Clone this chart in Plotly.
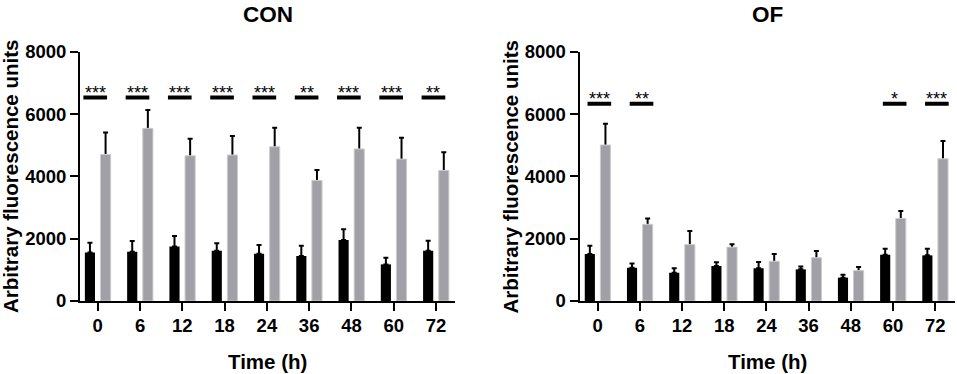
import plotly.graph_objects as go

# ---------------- data ----------------
times = ["0", "6", "12", "18", "24", "36", "48", "60", "72"]
y_tick_values = [0, 2000, 4000, 6000, 8000]

con_black = [1560, 1580, 1750, 1615, 1520, 1445, 1960, 1175, 1615]
con_black_sd = [310, 345, 335, 235, 280, 330, 340, 215, 320]
con_gray = [4700, 5540, 4660, 4685, 4950, 3870, 4880, 4555, 4190]
con_gray_sd = [710, 590, 550, 610, 610, 330, 680, 685, 580]
con_sig = ["***", "***", "***", "***", "***", "**", "***", "***", "**"]
con_sig_level = 6530

of_black = [1510, 1070, 910, 1120, 1050, 1015, 750, 1485, 1465]
of_black_sd = [265, 130, 140, 120, 200, 95, 95, 195, 215]
of_gray = [5005, 2460, 1810, 1730, 1275, 1390, 975, 2650, 4565]
of_gray_sd = [685, 190, 435, 90, 235, 215, 115, 240, 570]
of_sig = ["***", "**", "", "", "", "", "", "*", "***"]
of_sig_level = 6330

# ---------------- style ----------------
FONT = "Arial, 'Liberation Sans', sans-serif"
W, H = 957, 374
BAR_W = 0.24
BLACK_OFF = -0.305
GRAY_OFF = 0.065
GRAY_FILL = "rgb(160,160,166)"
GRAY_EDGE = "rgb(205,205,205)"
HIDE = 80  # hides error-bar foot under the grey bar

idx = list(range(len(times)))

fig = go.Figure()
shapes = []
annotations = []


def add_panel(n, black, black_sd, gray, gray_sd, sig, sig_level, title, xdom, xrange, sig_shift):
    xa = "x" if n == 1 else f"x{n}"
    ya = "y" if n == 1 else f"y{n}"
    eb = dict(type="data", symmetric=False, color="black", thickness=2, width=2.5)
    fig.add_trace(go.Bar(
        x=idx, y=black, xaxis=xa, yaxis=ya, width=BAR_W, offset=BLACK_OFF,
        marker=dict(color="black", line=dict(width=0)),
        error_y=dict(eb, array=black_sd, arrayminus=[0] * len(black)),
        showlegend=False, hoverinfo="skip"))
    fig.add_trace(go.Bar(
        x=idx, y=[g - HIDE for g in gray], xaxis=xa, yaxis=ya, width=BAR_W, offset=GRAY_OFF,
        marker=dict(color="rgba(0,0,0,0)", line=dict(width=0)),
        error_y=dict(eb, array=[s + HIDE for s in gray_sd], arrayminus=[0] * len(gray)),
        showlegend=False, hoverinfo="skip"))
    fig.add_trace(go.Bar(
        x=idx, y=gray, xaxis=xa, yaxis=ya, width=BAR_W, offset=GRAY_OFF,
        marker=dict(color=GRAY_FILL, line=dict(width=1, color=GRAY_EDGE)),
        showlegend=False, hoverinfo="skip"))

    for i, s in zip(idx, sig):
        if not s:
            continue
        shapes.append(dict(type="line", xref=xa, yref=ya,
                           x0=i - 0.29 + sig_shift, x1=i + 0.27 + sig_shift,
                           y0=sig_level, y1=sig_level,
                           line=dict(color="black", width=4)))
        annotations.append(dict(text=s, xref=xa, yref=ya, x=i - 0.01 + sig_shift, y=sig_level,
                                xanchor="center", yanchor="middle", yshift=5, showarrow=False,
                                font=dict(family=FONT, size=18, color="black")))

    axis_common = dict(showline=True, linewidth=2, linecolor="black", ticks="outside",
                       ticklen=8, tickwidth=2, tickcolor="black", showgrid=False, zeroline=False,
                       automargin=False,
                       tickfont=dict(family=FONT, size=18.5, color="black", weight="bold"))
    xkey = "xaxis" if n == 1 else f"xaxis{n}"
    ykey = "yaxis" if n == 1 else f"yaxis{n}"
    fig.update_layout(**{
        xkey: dict(axis_common, domain=xdom, range=xrange, tickvals=idx, ticktext=times,
                   anchor=ya, fixedrange=True, ticklabelstandoff=-1),
        ykey: dict(axis_common, domain=[73 / H, 322.3 / H], range=[0, 8000],
                   tickvals=y_tick_values, anchor=xa, fixedrange=True),
    })
    xc = (xdom[0] + xdom[1]) / 2
    annotations.append(dict(text=title, xref="paper", yref="paper", x=xc, y=1,
                            xanchor="center", yanchor="top", showarrow=False,
                            font=dict(family=FONT, size=22.5, color="black", weight="bold")))
    annotations.append(dict(text="Time (h)", xref="paper", yref="paper", x=xc, y=1 - 361 / H,
                            xanchor="center", yanchor="middle", showarrow=False,
                            font=dict(family=FONT, size=20.5, color="black", weight="bold")))
    annotations.append(dict(text="Arbitrary fluorescence units", xref="paper", yref="paper",
                            x=xdom[0] - 70 / W, y=1 - 177 / H, textangle=-90,
                            xanchor="center", yanchor="middle", showarrow=False,
                            font=dict(family=FONT, size=20.5, color="black", weight="bold")))


add_panel(1, con_black, con_black_sd, con_gray, con_gray_sd, con_sig, con_sig_level,
          "CON", [80 / W, 455 / W], [-0.42, 8.45], -0.05)
add_panel(2, of_black, of_black_sd, of_gray, of_gray_sd, of_sig, of_sig_level,
          "OF", [579.5 / W, 955 / W], [-0.43, 8.47], 0.05)

fig.update_layout(
    width=W, height=H, autosize=False, barmode="overlay",
    margin=dict(l=0, r=0, t=0, b=0, pad=0),
    paper_bgcolor="white", plot_bgcolor="white",
    shapes=shapes, annotations=annotations,
    font=dict(family=FONT, color="black"),
)

fig.write_html(
    "out.html",
    config={"displayModeBar": False},
    post_script="document.body.style.margin='0';document.body.style.padding='0';"
                "document.body.style.overflow='hidden';",
)
